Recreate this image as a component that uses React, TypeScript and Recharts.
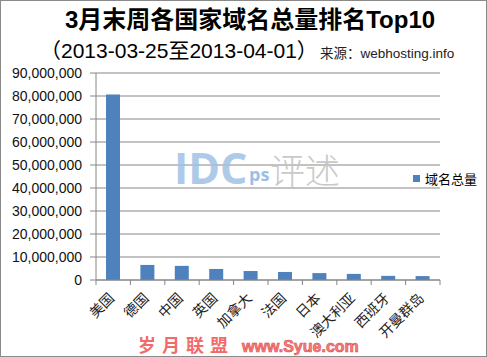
import { BarChart, Bar, XAxis, YAxis, CartesianGrid } from 'recharts'

const CATEGORIES = ['美国', '德国', '中国', '英国', '加拿大', '法国', '日本', '澳大利亚', '西班牙', '开曼群岛']
const DOMAINS = [80600000, 6550000, 6150000, 4800000, 3900000, 3500000, 3000000, 2650000, 1800000, 1700000]
const Y_TICKS = [0, 10000000, 20000000, 30000000, 40000000, 50000000, 60000000, 70000000, 80000000, 90000000]

const SERIES_NAME = '域名总量'
const TITLE = '3月末周各国家域名总量排名Top10'
const SUBTITLE = '（2013-03-25至2013-04-01）'
const SOURCE = '来源：webhosting.info'

const W = 487
const H = 357
const MARGIN = { top: 73, right: 47, bottom: 0, left: 0 }
const Y_WIDTH = 96
const BAND = (W - Y_WIDTH - MARGIN.right) / CATEGORIES.length

const BAR = '#4F81BD'
const AXIS = '#868686'
const LATIN = '"Liberation Sans", Arial, sans-serif'
const CJK = '"Liberation Sans", "Noto Sans CJK SC", sans-serif'

const data = CATEGORIES.map((name, i) => ({ name, value: DOMAINS[i] }))

const fmt = new Intl.NumberFormat('en-US')

// Excel puts the x tick marks between categories, and labels sit at 45°
function CategoryTick(props: any) {
  const { x, y, payload, index } = props
  const half = BAND / 2
  const tx = x + 2
  const ty = y + 19
  return (
    <g>
      <line x1={x - half} y1={y} x2={x - half} y2={y + 5} stroke={AXIS} />
      {index === CATEGORIES.length - 1 && (
        <line x1={x + half} y1={y} x2={x + half} y2={y + 5} stroke={AXIS} />
      )}
      <text
        x={tx}
        y={ty}
        transform={`rotate(-45 ${tx} ${ty})`}
        textAnchor="end"
        fontSize={14}
        fontFamily={CJK}
        fill="#222"
      >
        {payload.value}
      </text>
    </g>
  )
}

export default function App() {
  return (
    <div
      style={{
        position: 'absolute',
        left: 0,
        top: 0,
        width: W,
        height: H,
        background: '#fff',
        border: '1px solid #8a8a8a',
        boxSizing: 'border-box',
      }}
    >
      <div style={{ position: 'absolute', left: -1, top: -1 }}>
        <BarChart width={W} height={H} data={data} margin={MARGIN}>
          <CartesianGrid vertical={false} stroke={AXIS} />
          <XAxis
            dataKey="name"
            interval={0}
            height={H - 280 - MARGIN.bottom}
            tickSize={0}
            tickMargin={0}
            axisLine={{ stroke: AXIS }}
            tick={<CategoryTick />}
          />
          <YAxis
            width={Y_WIDTH}
            domain={[0, 90000000]}
            ticks={Y_TICKS}
            interval={0}
            tickSize={6}
            tickMargin={8}
            axisLine={{ stroke: AXIS }}
            tickLine={{ stroke: AXIS }}
            tick={{ fontSize: 14, fill: '#111', fontFamily: LATIN }}
            tickFormatter={(v: number) => fmt.format(v)}
          />
          <Bar dataKey="value" name={SERIES_NAME} fill={BAR} barSize={14} isAnimationActive={false} />
        </BarChart>
      </div>
      <svg
        width={W}
        height={H}
        style={{ position: 'absolute', left: -1, top: -1, pointerEvents: 'none' }}
      >
        {/* watermark */}
        <text x={174} y={184} fontSize={43} fontWeight={700} fontFamily='"Open Sans", sans-serif' fill="#9fc2e4" opacity={0.85}>
          IDC
        </text>
        <text x={249} y={181} fontSize={18} fontWeight={700} fontFamily='"Open Sans", sans-serif' fill="#8ab5df" opacity={0.85}>
          ps
        </text>
        <text x={270} y={184} fontSize={35} fontWeight={300} fontFamily='"Noto Sans CJK SC", sans-serif' fill="#c4c4c4" opacity={0.9}>
          评述
        </text>

        <text x={250} y={28} textAnchor="middle" fontSize={24} fontWeight={700} fontFamily={CJK} fill="#000">
          {TITLE}
        </text>
        <text x={40} y={58} fontSize={21} fontFamily={CJK} fill="#000">
          {SUBTITLE}
        </text>
        <text x={320} y={58} fontSize={13.5} fontFamily={CJK} fill="#222">
          {SOURCE}
        </text>

        <rect x={413} y={175} width={7} height={7} fill={BAR} />
        <text x={425} y={184} fontSize={13} fontFamily={CJK} fill="#000">
          {SERIES_NAME}
        </text>

        {/* site stamp along the bottom */}
        <text x={138} y={352} fontSize={18} fontWeight={700} fontFamily='"Noto Sans CJK SC", sans-serif' fill="#f26b6b" letterSpacing={6}>
          岁月联盟
        </text>
        <text x={242} y={352} fontSize={16} fontWeight={700} fontFamily={LATIN} fill="#f48080" stroke="#e04848" strokeWidth={0.6}>
          www.Syue.com
        </text>
      </svg>
    </div>
  )
}
